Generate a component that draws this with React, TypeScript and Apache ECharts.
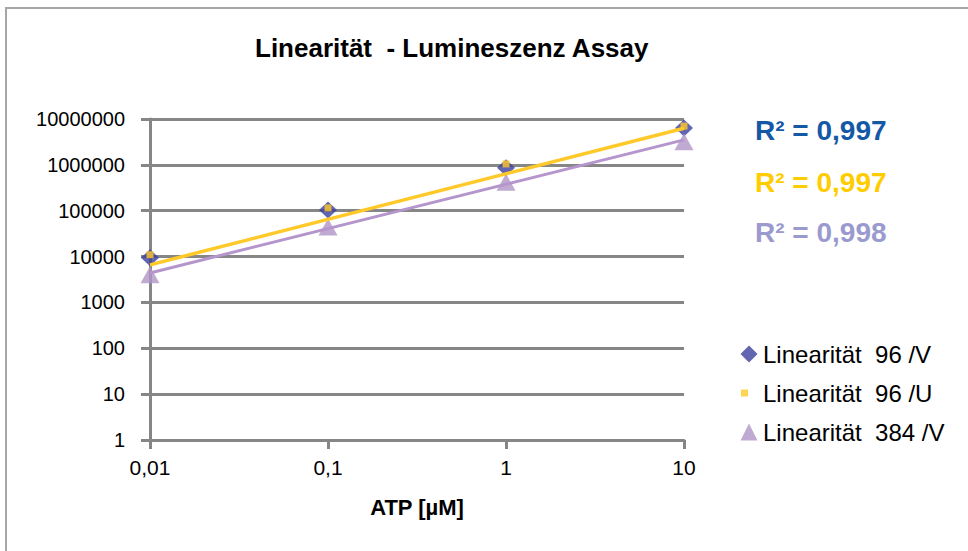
import React, { useEffect, useRef } from "react";
import * as echarts from "echarts";

const xValues = [0.01, 0.1, 1, 10];
const xTickLabels = ["0,01", "0,1", "1", "10"];
const yTickLabels = ["1", "10", "100", "1000", "10000", "100000", "1000000", "10000000"];

const seriesNames = ["Linearität  96 /V", "Linearität  96 /U", "Linearität  384 /V"];
const blueValues = [9400, 104000, 860000, 6400000];
const yellowValues = [11000, 115000, 1050000, 7000000];
const purpleValues = [4000, 44000, 420000, 3200000];

const trendX = [0.01, 10];
const yellowTrend = [6600, 6300000];
const purpleTrend = [4400, 3500000];

const r2Texts = ["R² = 0,997", "R² = 0,997", "R² = 0,998"];

const FONT = "'Liberation Sans', Arial, sans-serif";

export default function App() {
  const ref = useRef<HTMLDivElement>(null);
  useEffect(() => {
    if (!ref.current) return;
    const chart = echarts.init(ref.current, undefined, { renderer: "svg" });
    const pair = (xs: number[], ys: number[]) => xs.map((x, i) => [x, ys[i]]);
    const r2Colors = ["#1558A6", "#FFCC00", "#9A9ACE"];
    const r2Y = [116, 168, 218];
    chart.setOption({
      animation: false,
      backgroundColor: "#ffffff",
      textStyle: { fontFamily: FONT },
      title: {
        text: "Linearität  - Lumineszenz Assay",
        left: 255,
        top: 35,
        padding: 0,
        textStyle: {
          fontFamily: FONT,
          fontWeight: "bold",
          fontSize: 26,
          color: "#000",
        },
      },
      grid: { left: 150, right: 284, top: 119, bottom: 111 },
      xAxis: {
        type: "log",
        logBase: 10,
        min: 0.01,
        max: 10,
        name: "ATP [µM]",
        nameLocation: "middle",
        nameGap: 56,
        nameTextStyle: { fontFamily: FONT, fontWeight: "bold", fontSize: 22, color: "#000" },
        axisLine: { lineStyle: { color: "#868686", width: 3 } },
        axisTick: { show: true, length: 9, lineStyle: { color: "#868686", width: 3 } },
        splitLine: { show: false },
        minorTick: { show: false },
        axisLabel: {
          margin: 17,
          fontSize: 21,
          color: "#000",
          fontFamily: FONT,
          formatter: (v: number) => xTickLabels[Math.round(Math.log10(v)) + 2] ?? "",
        },
      },
      yAxis: {
        type: "log",
        logBase: 10,
        min: 1,
        max: 10000000,
        axisLine: { show: true, lineStyle: { color: "#868686", width: 3 } },
        axisTick: { show: true, length: 9, lineStyle: { color: "#868686", width: 3 } },
        splitLine: { show: true, lineStyle: { color: "#868686", width: 3 } },
        axisLabel: {
          margin: 25,
          fontSize: 20,
          color: "#000",
          fontFamily: FONT,
          formatter: (v: number) => yTickLabels[Math.round(Math.log10(v))] ?? "",
        },
      },
      legend: {
        orient: "vertical",
        left: 740,
        top: 342,
        padding: 0,
        itemWidth: 18,
        itemHeight: 18,
        itemGap: 15,
        textStyle: { fontFamily: FONT, fontSize: 24, lineHeight: 24, color: "#000" },
        data: [
          { name: seriesNames[0], icon: "path://M0,0M18,18M9,0.5L17.5,9L9,17.5L0.5,9Z" },
          { name: seriesNames[1], icon: "path://M0,0M18,18M1,5.5h7v7h-7z" },
          { name: seriesNames[2], icon: "path://M0,0M18,18M9,0.5L17.5,17.5L0.5,17.5Z" },
        ],
      },
      series: [
        {
          name: seriesNames[0],
          type: "scatter",
          symbol: "diamond",
          symbolSize: [18, 17],
          itemStyle: { color: "#3B3F9B" },
          data: pair(xValues, blueValues),
          z: 2,
        },
        {
          name: seriesNames[1],
          type: "scatter",
          symbol: "rect",
          symbolSize: 7,
          itemStyle: { color: "#FFC929" },
          data: pair(xValues, yellowValues),
          z: 3,
        },
        {
          name: seriesNames[2],
          type: "scatter",
          symbol: "triangle",
          symbolSize: [19, 17],
          itemStyle: { color: "#B295C6" },
          data: pair(xValues, purpleValues),
          z: 3,
        },
        {
          name: "trend-yellow",
          type: "line",
          showSymbol: false,
          symbol: "none",
          lineStyle: { color: "#FFC929", width: 3.5 },
          data: pair(trendX, yellowTrend),
          z: 4,
        },
        {
          name: "trend-purple",
          type: "line",
          showSymbol: false,
          symbol: "none",
          lineStyle: { color: "#B595CC", width: 3 },
          data: pair(trendX, purpleTrend),
          z: 4,
        },
      ],
      graphic: [
        {
          type: "rect",
          shape: { x: 6, y: 8, width: 1200, height: 1000 },
          style: { fill: "none", stroke: "#A6A6A6", lineWidth: 2 },
          silent: true,
        },
        ...r2Texts.map((t, i) => ({
          type: "text",
          left: 755,
          top: r2Y[i],
          style: {
            text: t,
            fill: r2Colors[i],
            fontFamily: FONT,
            fontWeight: "bold",
            fontSize: 28,
          },
        })),
      ],
    });
    return () => chart.dispose();
  }, []);
  return (
    <div
      ref={ref}
      style={{ position: "fixed", left: 0, top: 0, width: 968, height: 551 }}
    />
  );
}
